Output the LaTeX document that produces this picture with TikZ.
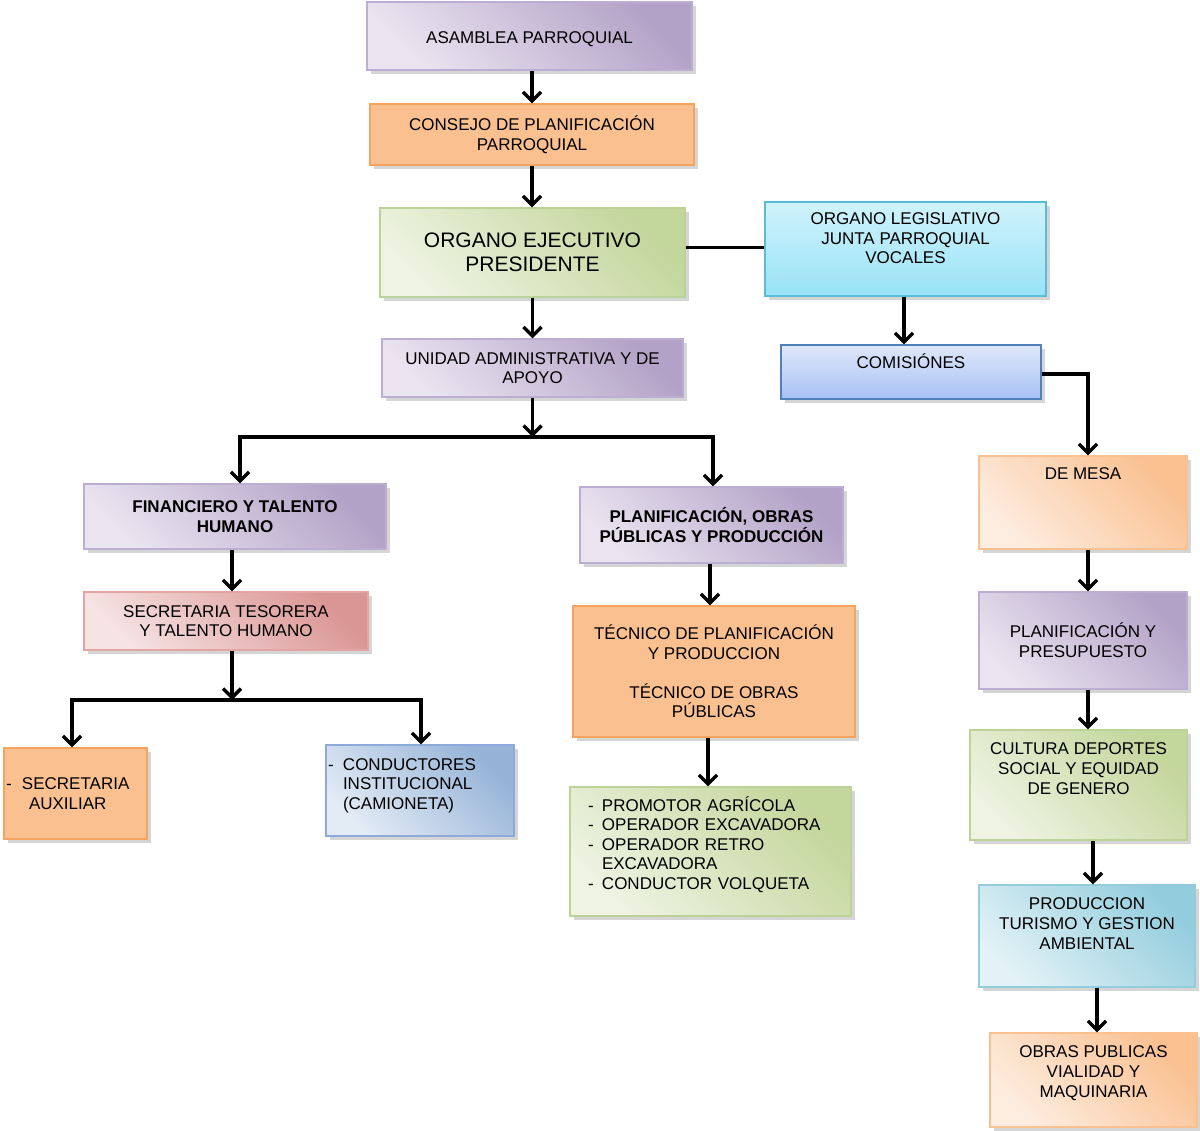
\documentclass[tikz,border=0pt]{standalone}
\usepackage{fontspec}
\setmainfont{Liberation Sans}
\usetikzlibrary{arrows.meta,shadows}
\definecolor{purpleD}{HTML}{B3A2C7}
\definecolor{purpleL}{HTML}{EAE4F0}
\definecolor{purpleB}{HTML}{BCAED2}
\definecolor{orangeF}{HTML}{FAC090}
\definecolor{orangeB}{HTML}{F5A35F}
\definecolor{greenD}{HTML}{C3D69B}
\definecolor{greenL}{HTML}{EEF3E2}
\definecolor{greenB}{HTML}{BDD297}
\definecolor{cyanD}{HTML}{99E2F6}
\definecolor{cyanL}{HTML}{D0F3FC}
\definecolor{cyanB}{HTML}{5BBCD6}
\definecolor{blueD}{HTML}{A8C1F4}
\definecolor{blueL}{HTML}{DFE8FB}
\definecolor{blueB}{HTML}{4F81BD}
\definecolor{redD}{HTML}{DA9694}
\definecolor{redL}{HTML}{F6E3E3}
\definecolor{redB}{HTML}{E3A5A4}
\definecolor{steelD}{HTML}{95B3D7}
\definecolor{steelL}{HTML}{E3EBF5}
\definecolor{steelB}{HTML}{8EAADB}
\definecolor{tealD}{HTML}{93CDDD}
\definecolor{tealL}{HTML}{E2F2F6}
\definecolor{peachD}{HTML}{FAC090}
\definecolor{peachL}{HTML}{FDEDE0}
\begin{document}
\begin{tikzpicture}[x=1pt,y=-1pt,>={Straight Barb[length=9pt,width=18pt]}]
\tikzset{
  unit/.style={line width=1.3pt,align=center,inner sep=3pt,font=\fontsize{17}{19.6}\selectfont,
    drop shadow={shadow xshift=4pt,shadow yshift=-4pt,fill=black!32}},
  purplebox/.style={unit,draw=purpleB,top color=purpleD,bottom color=purpleL,shading angle=-45},
  orangebox/.style={unit,draw=orangeB,fill=orangeF},
  greenbox/.style={unit,draw=greenB,top color=greenD,bottom color=greenL,shading angle=-45},
  cyanbox/.style={unit,draw=cyanB,top color=cyanL,bottom color=cyanD,shading angle=0},
  bluebox/.style={unit,draw=blueB,top color=blueL,bottom color=blueD,shading angle=0},
  redbox/.style={unit,draw=redB,top color=redD,bottom color=redL,shading angle=-45},
  steelbox/.style={unit,draw=steelB,top color=steelD,bottom color=steelL,shading angle=-45},
  tealbox/.style={unit,draw=tealD,top color=tealD,bottom color=tealL,shading angle=-45},
  peachbox/.style={unit,draw=peachD,top color=peachD,bottom color=peachL,shading angle=-45},
  lift/.style 2 args={text height=#1,text depth=#2},
  link/.style={line width=3.4pt},
  arrow/.style={link,->}
}
\useasboundingbox[fill=white] (0,0) rectangle (1200,1131);
\node[purplebox,minimum width=325pt,minimum height=68pt,lift={16pt}{0pt}] (asamblea) at (529.5,36) {ASAMBLEA PARROQUIAL};
\node[orangebox,minimum width=324pt,minimum height=61pt] (consejo) at (532,134.5) {CONSEJO DE PLANIFICACIÓN\\PARROQUIAL};
\node[greenbox,minimum width=305pt,minimum height=89pt,font=\fontsize{21}{24}\selectfont] (ejecutivo) at (532.5,252.5) {ORGANO EJECUTIVO\\PRESIDENTE};
\node[cyanbox,minimum width=281pt,minimum height=94pt,lift={30pt}{0pt}] (legislativo) at (905.5,249) {ORGANO LEGISLATIVO\\JUNTA PARROQUIAL\\VOCALES};
\node[purplebox,minimum width=301pt,minimum height=58pt] (unidad) at (532.5,368) {UNIDAD ADMINISTRATIVA Y DE\\APOYO};
\node[bluebox,minimum width=260pt,minimum height=54pt,lift={12pt}{18pt}] (comisiones) at (911,372) {COMISIÓNES};
\node[purplebox,minimum width=302pt,minimum height=65pt,font=\fontsize{17}{19.6}\selectfont\bfseries] (financiero) at (235,516.5) {FINANCIERO Y TALENTO\\HUMANO};
\node[purplebox,minimum width=263pt,minimum height=76pt,font=\fontsize{17}{20.5}\selectfont\bfseries] (planobras) at (711.5,525) {PLANIFICACIÓN, OBRAS\\PÚBLICAS Y PRODUCCIÓN};
\node[redbox,minimum width=284pt,minimum height=58pt] (tesorera) at (226,621) {SECRETARIA TESORERA\\Y TALENTO HUMANO};
\node[orangebox,minimum width=282pt,minimum height=131pt] (tecnico) at (714,671.5) {TÉCNICO DE PLANIFICACIÓN\\Y PRODUCCION\\[19.6pt]TÉCNICO DE OBRAS\\PÚBLICAS};
\node[orangebox,minimum width=143pt,minimum height=91pt,text width=139pt,align=left,inner xsep=2pt] (auxiliar) at (75.5,793.5) {\makebox[16pt][l]{-}SECRETARIA\\\hspace*{23pt}AUXILIAR};
\node[steelbox,minimum width=188pt,minimum height=91pt,text width=184pt,align=left,inner xsep=2pt,lift={12pt}{53pt}] (conductores) at (420,790.5) {\makebox[15pt][l]{-}CONDUCTORES\\\hspace*{15pt}INSTITUCIONAL\\\hspace*{15pt}(CAMIONETA)};
\node[greenbox,minimum width=281pt,minimum height=129pt,text width=245pt,align=left,lift={12pt}{93pt}] (promotor) at (710.5,851.5) {\makebox[14pt][l]{-}PROMOTOR AGRÍCOLA\\\makebox[14pt][l]{-}OPERADOR EXCAVADORA\\\makebox[14pt][l]{-}OPERADOR RETRO\\\hspace*{14pt}EXCAVADORA\\\makebox[14pt][l]{-}CONDUCTOR VOLQUETA};
\node[peachbox,minimum width=208pt,minimum height=93pt,lift={12pt}{57pt}] (demesa) at (1083,502.5) {DE MESA};
\node[purplebox,minimum width=208pt,minimum height=97pt] (planpres) at (1083,640.5) {PLANIFICACIÓN Y\\PRESUPUESTO};
\node[greenbox,minimum width=217pt,minimum height=110pt,lift={18pt}{0pt}] (cultura) at (1078.5,785) {CULTURA DEPORTES\\SOCIAL Y EQUIDAD\\DE GENERO};
\node[tealbox,minimum width=216pt,minimum height=102pt,lift={26pt}{0pt}] (produccion) at (1087,936) {PRODUCCION\\TURISMO Y GESTION\\AMBIENTAL};
\node[peachbox,minimum width=207pt,minimum height=94pt,lift={34pt}{0pt}] (obras) at (1093.5,1080) {OBRAS PUBLICAS\\VIALIDAD Y\\MAQUINARIA};
\coordinate (split1) at (532.5,437);
\coordinate (split2) at (232,700);
\draw[arrow] (asamblea.south -| consejo.north) -- (consejo.north);
\draw[arrow] (consejo.south) -- (consejo.south |- ejecutivo.north);
\draw[link] ([yshift=5pt]ejecutivo.east) -- ([yshift=5pt]ejecutivo.east -| legislativo.west);
\draw[arrow] (ejecutivo.south) -- (ejecutivo.south |- unidad.north);
\draw[arrow] ([xshift=-1.5pt]legislativo.south) -- ([xshift=-1.5pt]legislativo.south |- comisiones.north);
\draw[arrow] ([yshift=-2pt]comisiones.east) -| ([xshift=5pt]demesa.north);
\draw[arrow] (unidad.south) -- (split1);
\draw[arrow] (split1) -| ([xshift=5pt]financiero.north);
\draw[arrow] (split1) -| ([xshift=1.5pt]planobras.north);
\draw[arrow] ([xshift=-3pt]financiero.south) -- ([xshift=-3pt]financiero.south |- tesorera.north);
\draw[arrow] (tesorera.south -| split2) -- (split2);
\draw[arrow] (split2) -| ([xshift=-3.5pt]auxiliar.north);
\draw[arrow] (split2) -| ([xshift=1pt]conductores.north);
\draw[arrow] ([xshift=-1.5pt]planobras.south) -- ([xshift=-1.5pt]planobras.south |- tecnico.north);
\draw[arrow] ([xshift=-6pt]tecnico.south) -- ([xshift=-6pt]tecnico.south |- promotor.north);
\draw[arrow] ([xshift=5pt]demesa.south) -- ([xshift=5pt]demesa.south |- planpres.north);
\draw[arrow] ([xshift=5pt]planpres.south) -- ([xshift=5pt]planpres.south |- cultura.north);
\draw[arrow] ([xshift=14.5pt]cultura.south) -- ([xshift=14.5pt]cultura.south |- produccion.north);
\draw[arrow] ([xshift=10pt]produccion.south) -- ([xshift=10pt]produccion.south |- obras.north);
\end{tikzpicture}
\end{document}
